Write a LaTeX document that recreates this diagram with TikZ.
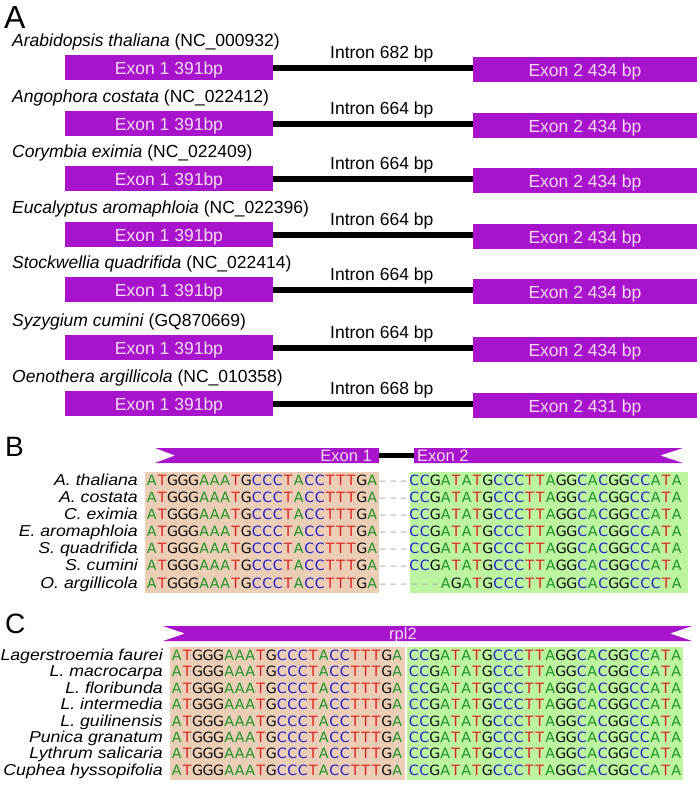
\documentclass[tikz,border=0pt]{standalone}
\usepackage{fontspec}
\setmainfont{Liberation Sans}
\newfontfamily\lblfont[FakeStretch=1.12]{Liberation Sans}
\newfontfamily\ntfont{DejaVu Sans}
\definecolor{exonpurple}{RGB}{168,20,204}
\definecolor{exontext}{RGB}{246,218,246}
\definecolor{tanbg}{RGB}{236,206,182}
\definecolor{greenbg}{RGB}{188,244,160}
\definecolor{ntA}{RGB}{30,150,40}
\definecolor{ntT}{RGB}{225,35,30}
\definecolor{ntC}{RGB}{35,35,205}
\definecolor{ntG}{RGB}{15,15,15}
\definecolor{gapgray}{RGB}{175,175,175}
\tikzset{
  exonbox/.style={fill=exonpurple, draw=none, inner sep=0pt, minimum height=25pt,
    text height=14pt, text depth=0pt, text=exontext, font=\fontsize{17.5}{20}\selectfont},
  intronline/.style={line width=6pt, black},
  spname/.style={anchor=base west, inner sep=0pt, font=\fontsize{17.5}{20}\selectfont},
  intronlbl/.style={anchor=base west, inner sep=0pt, font=\fontsize{17.5}{20}\selectfont},
  panellbl/.style={anchor=base west, inner sep=0pt},
  rowlbl/.style={anchor=base east, inner sep=0pt, font=\lblfont\itshape\fontsize{15.8}{18}\selectfont},
  nt/.style={anchor=base, inner sep=0pt, font=\ntfont\fontsize{14.2}{16}\selectfont},
  barlbl/.style={inner sep=0pt, text=exontext, font=\fontsize{16.5}{19}\selectfont},
  barfill/.style={fill=exonpurple},
  linkline/.style={line width=5pt, black}
}
\newcounter{seqcol}
\def\seqrow#1#2#3{\setcounter{seqcol}{0}\def\seqx{#1}\def\seqy{#2}\expandafter\seqloop#3\relax}
\def\seqloop#1{\ifx#1\relax\else\seqput#1\expandafter\seqloop\fi}
\def\seqput#1{%
  \pgfmathsetmacro\seqcx{\seqx+10.5*\arabic{seqcol}+5.25}%
  \ifx#1-\def\seqlc{gapgray}\def\seqglyph{–}%
  \else
    \ifx#1A\def\seqlc{ntA}\fi
    \ifx#1T\def\seqlc{ntT}\fi
    \ifx#1G\def\seqlc{ntG}\fi
    \ifx#1C\def\seqlc{ntC}\fi
    \def\seqglyph{#1}%
  \fi
  \node[nt,text=\seqlc] (\seqid-\arabic{seqcol}) at (\seqcx,\seqy) {\seqglyph};%
  \stepcounter{seqcol}}
\begin{document}
\begin{tikzpicture}[x=1pt,y=-1pt]
\useasboundingbox (0,0) rectangle (700,785);
% ---------------- Panel A ----------------
\node[panellbl, font=\fontsize{32}{36}\selectfont] (pA) at (4,28) {A};
\foreach \tp/\spn/\acn/\inl/\exl [count=\k] in {
  55/Arabidopsis thaliana/NC\_000932/682/434,
  111/Angophora costata/NC\_022412/664/434,
  166/Corymbia eximia/NC\_022409/664/434,
  222/Eucalyptus aromaphloia/NC\_022396/664/434,
  277/Stockwellia quadrifida/NC\_022414/664/434,
  335/Syzygium cumini/GQ870669/664/434,
  391/Oenothera argillicola/NC\_010358/668/431}{
  \node[spname] (sp\k) at (12,\tp-9) {\textit{\spn} (\acn)};
  \node[exonbox, minimum width=208pt] (ea\k) at (169,\tp+12.5) {Exon 1 391bp};
  \node[exonbox, minimum width=224pt] (eb\k) at (585,\tp+14) {Exon 2 \exl\ bp};
  \draw[intronline] (ea\k.east) -- (ea\k.east -| eb\k.west);
  \node[intronlbl] (il\k) at (330,\tp+3.5) {Intron \inl\ bp};
}
% ---------------- Panel B ----------------
\node[panellbl, font=\fontsize{28}{32}\selectfont] (pB) at (5,456) {B};
\fill[barfill] (155,448) -- (379,448) -- (379,463) -- (155,463) -- (175,455.5) -- cycle;
\fill[barfill] (414,448) -- (683,448) -- (660,455.5) -- (683,463) -- (414,463) -- cycle;
\coordinate (bx1) at (379,455.5);
\coordinate (bx2) at (414,455.5);
\draw[linkline] (bx1) -- (bx2);
\node[barlbl, anchor=base east] (lx1) at (372,461.5) {Exon 1};
\node[barlbl, anchor=base west] (lx2) at (417,461.5) {Exon 2};
\fill[tanbg] (145,472) rectangle (379,593);
\fill[greenbg] (410,472) rectangle (688,593);
\foreach \lbl/\sq [count=\r from 0] in {
  A. thaliana/ATGGGAAATGCCCTACCTTTGA---CCGATATGCCCTTAGGCACGGCCATA,
  A. costata/ATGGGAAATGCCCTACCTTTGA---CCGATATGCCCTTAGGCACGGCCATA,
  C. eximia/ATGGGAAATGCCCTACCTTTGA---CCGATATGCCCTTAGGCACGGCCATA,
  E. aromaphloia/ATGGGAAATGCCCTACCTTTGA---CCGATATGCCCTTAGGCACGGCCATA,
  S. quadrifida/ATGGGAAATGCCCTACCTTTGA---CCGATATGCCCTTAGGCACGGCCATA,
  S. cumini/ATGGGAAATGCCCTACCTTTGA---CCGATATGCCCTTAGGCACGGCCATA,
  O. argillicola/ATGGGAAATGCCCTACCTTTGA------AGATGCCCTTAGGCACGGCCCTA}{
  \pgfmathsetmacro\by{485+17.17*\r}
  \node[rowlbl] (bl\r) at (138,\by) {\lbl};
  \def\seqid{b\r}
  \seqrow{146.5}{\by}{\sq}
}
% ---------------- Panel C ----------------
\node[panellbl, font=\fontsize{28}{32}\selectfont] (pC) at (5,633) {C};
\fill[barfill] (163,626) -- (692,626) -- (670,633.5) -- (692,641) -- (163,641) -- (185,633.5) -- cycle;
\node[barlbl, anchor=base] (lx3) at (403,639) {rpl2};
\fill[tanbg] (170,647) rectangle (405,780);
\fill[greenbg] (406.5,647) rectangle (683,780);
\foreach \lbl [count=\r from 0] in {Lagerstroemia faurei, L. macrocarpa, L. floribunda,
  L. intermedia, L. guilinensis, Punica granatum, Lythrum salicaria, Cuphea hyssopifolia}{
  \pgfmathsetmacro\cy{660.5+16.4*\r}
  \node[rowlbl] (cl\r) at (163,\cy) {\lbl};
  \def\seqid{ct\r}
  \seqrow{171.5}{\cy}{ATGGGAAATGCCCTACCTTTGA}
  \def\seqid{cg\r}
  \seqrow{408.5}{\cy}{CCGATATGCCCTTAGGCACGGCCATA}
}
\end{tikzpicture}
\end{document}
